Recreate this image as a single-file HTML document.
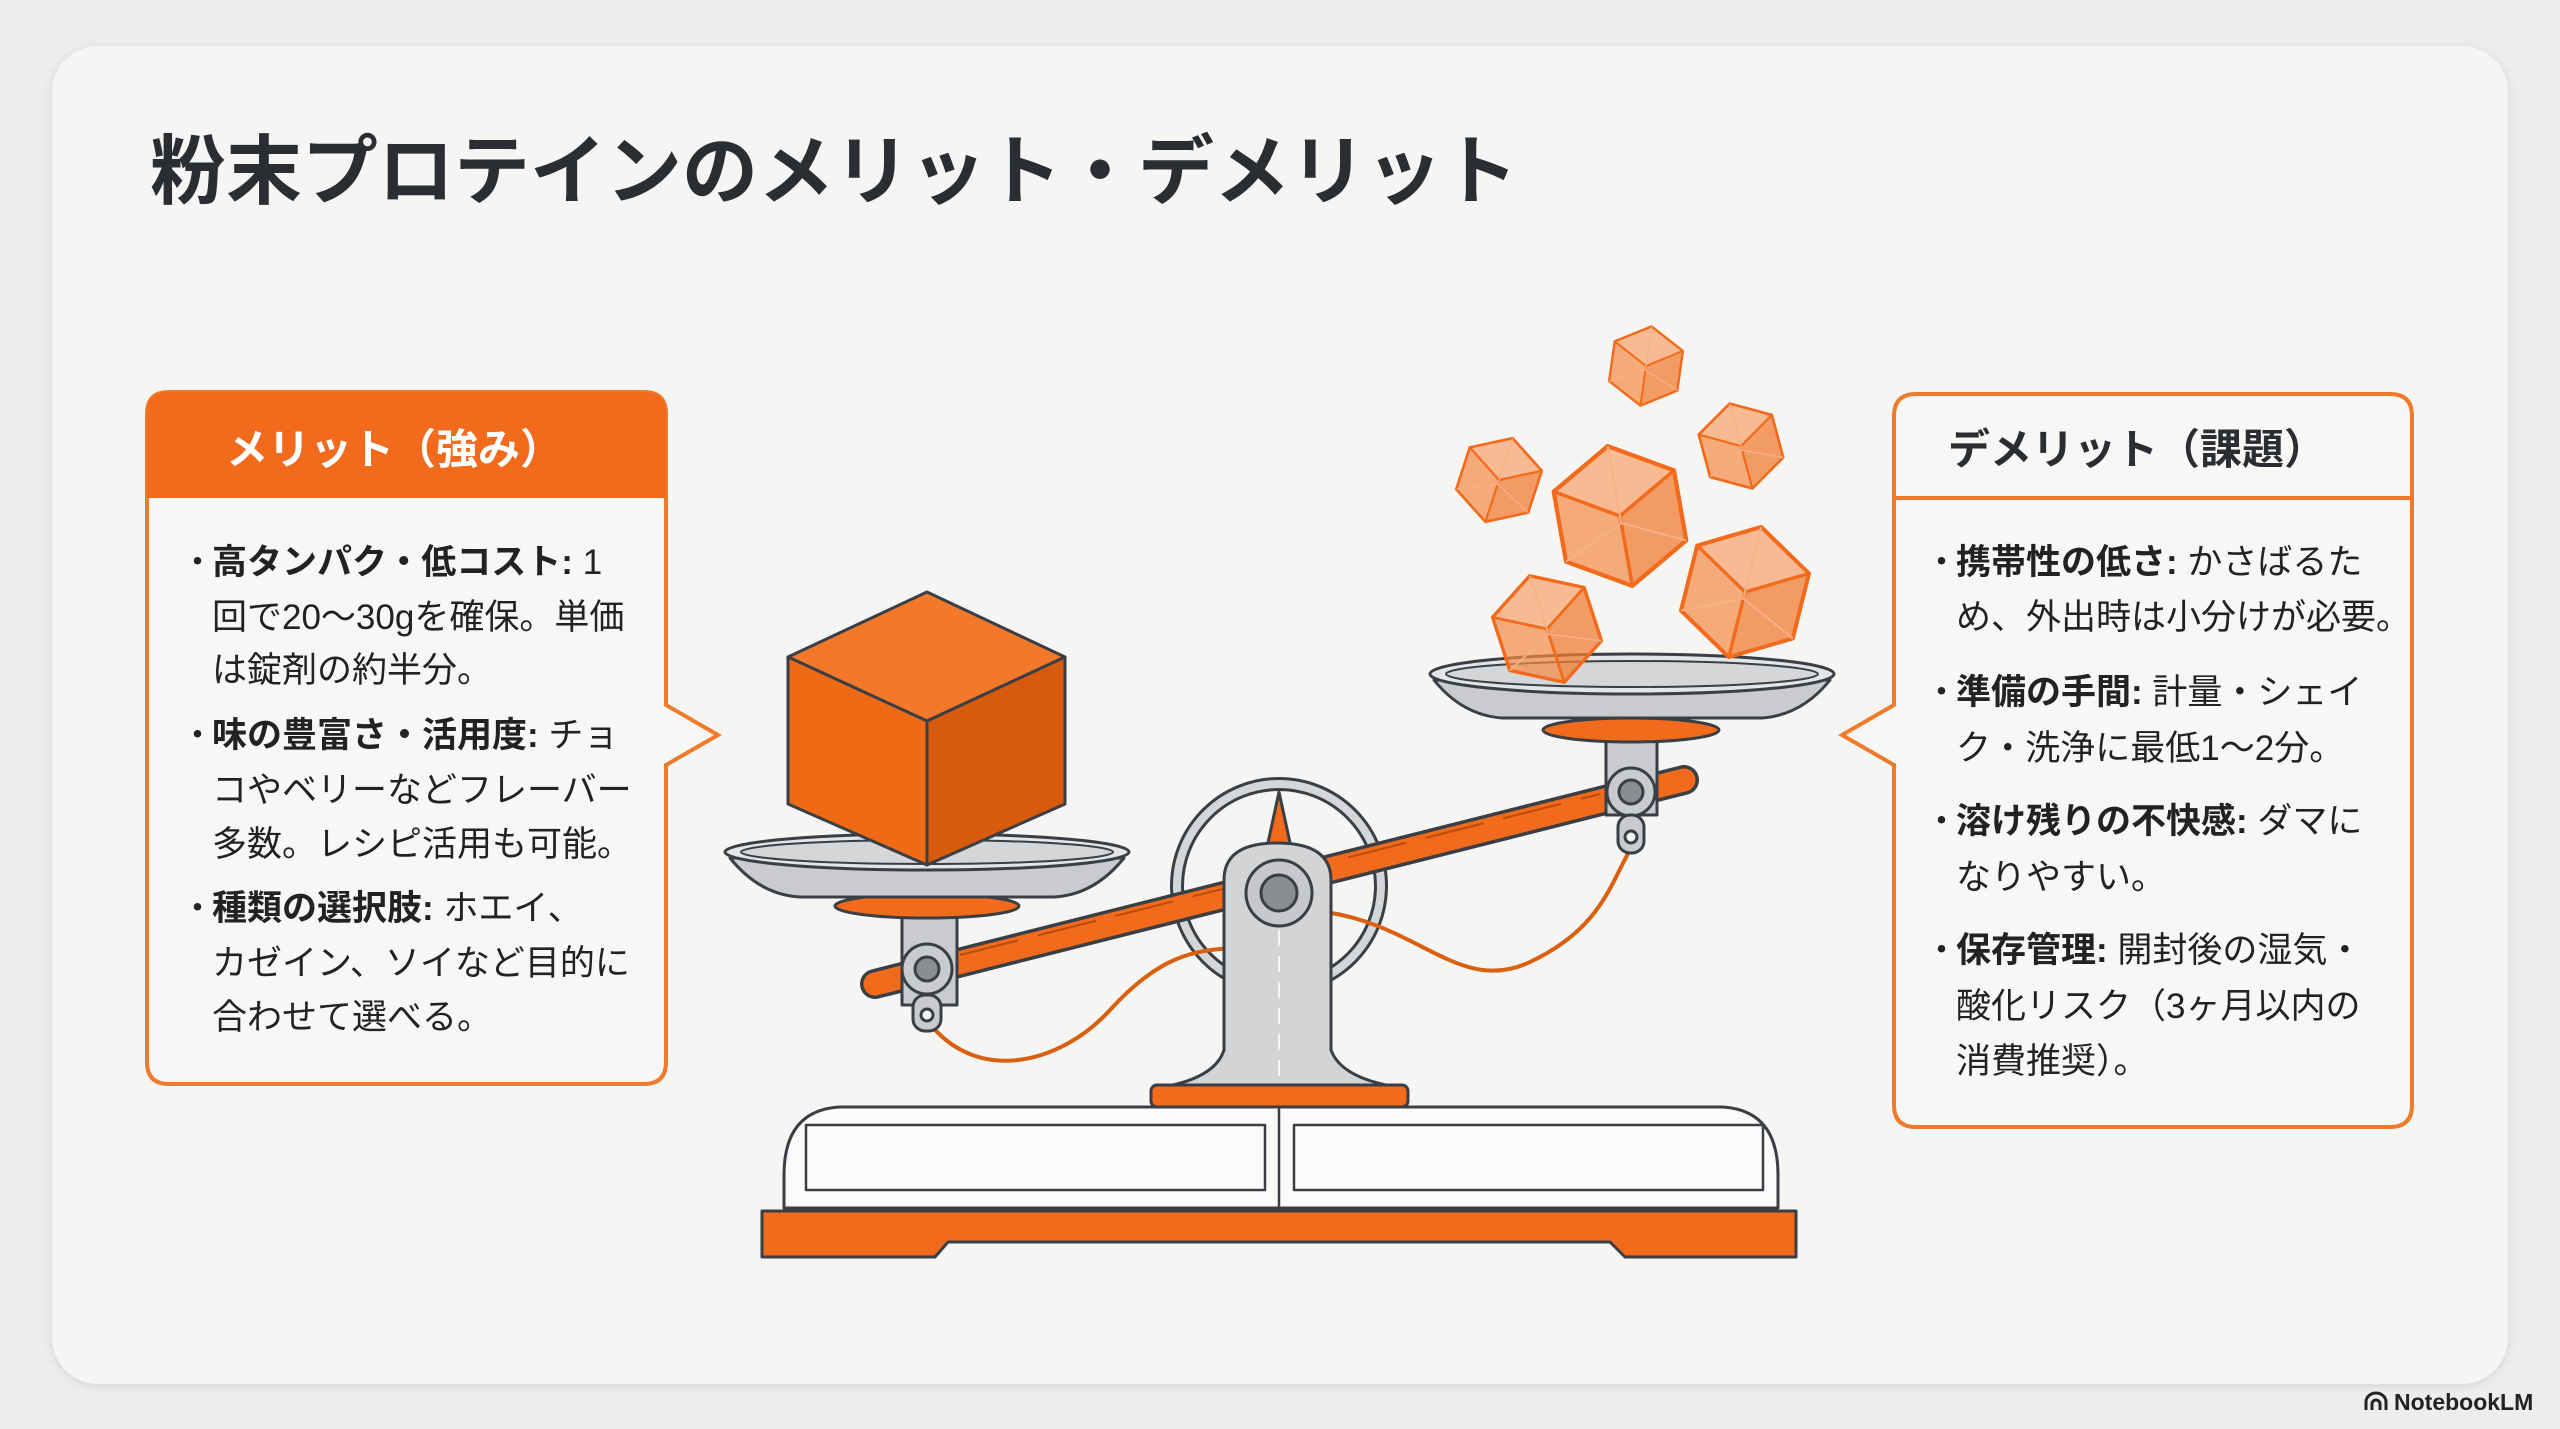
<!DOCTYPE html>
<html><head><meta charset="utf-8">
<style>
html,body{margin:0;padding:0;background:#ededeb;}
body{width:2560px;height:1429px;overflow:hidden;position:relative;font-family:"Liberation Sans","Noto Sans CJK JP",sans-serif;}
.card{position:absolute;left:52px;top:46px;width:2456px;height:1338px;border-radius:46px;background:#f5f5f3;box-shadow:0 2px 10px rgba(0,0,0,0.10);}
svg{position:absolute;left:0;top:0;}
text{font-family:"Liberation Sans","Noto Sans CJK JP",sans-serif;}
</style></head><body>
<div class="card"></div>
<svg width="2560" height="1429" viewBox="0 0 2560 1429">
<defs>
<g id="cube">
 <polygon points="0,-50 43,-25 0,0 -43,-25" fill="#f7a672" fill-opacity="0.75"/>
 <polygon points="-43,-25 0,0 0,50 -43,25" fill="#f58a45" fill-opacity="0.7"/>
 <polygon points="0,0 43,-25 43,25 0,50" fill="#f07c34" fill-opacity="0.75"/>
 <polygon points="0,-50 43,-25 43,25 0,50 -43,25 -43,-25" fill="none" stroke="#f26a1b" stroke-width="3" stroke-linejoin="round"/>
 <polyline points="-43,-25 0,0 43,-25 M0,0" fill="none" stroke="#f26a1b" stroke-width="2.5"/>
 <line x1="0" y1="0" x2="0" y2="50" stroke="#f26a1b" stroke-width="2.5"/>
 <polyline points="-43,25 0,5 43,25" fill="none" stroke="#f7b088" stroke-width="1.5"/>
 <line x1="0" y1="-50" x2="0" y2="5" stroke="#f7b088" stroke-width="1.5"/>
</g>
</defs>

<text x="150" y="198" font-size="76" font-weight="bold" fill="#2a2d31">粉末プロテインのメリット・デメリット</text>

<path d="M169,392 H644 Q666,392 666,414 V705 L718,735 L666,765 V1062 Q666,1084 644,1084 H169 Q147,1084 147,1062 V414 Q147,392 169,392 Z" fill="#f7f7f5" stroke="#f07a2c" stroke-width="4"/>
<path d="M169,392 H644 Q666,392 666,414 V498 H147 V414 Q147,392 169,392 Z" fill="#f26a1b"/>
<text x="226" y="464" font-size="42" font-weight="bold" fill="#ffffff">メリット（強み）</text>
<g font-size="35" fill="#222">
 <text x="180" y="574">・</text>
 <text x="212" y="574"><tspan font-weight="bold">高タンパク・低コスト:</tspan> 1</text>
 <text x="212" y="629">回で20〜30gを確保。単価</text>
 <text x="212" y="682">は錠剤の約半分。</text>
 <text x="180" y="747">・</text>
 <text x="212" y="747"><tspan font-weight="bold">味の豊富さ・活用度:</tspan> チョ</text>
 <text x="212" y="802">コやベリーなどフレーバー</text>
 <text x="212" y="856">多数。レシピ活用も可能。</text>
 <text x="180" y="920">・</text>
 <text x="212" y="920"><tspan font-weight="bold">種類の選択肢:</tspan> ホエイ、</text>
 <text x="212" y="975">カゼイン、ソイなど目的に</text>
 <text x="212" y="1029">合わせて選べる。</text>
</g>

<path d="M1916,394 H2390 Q2412,394 2412,416 V1105 Q2412,1127 2390,1127 H1916 Q1894,1127 1894,1105 V765 L1842,735 L1894,705 V416 Q1894,394 1916,394 Z" fill="#f7f7f5" stroke="#f07a2c" stroke-width="4"/>
<line x1="1894" y1="498" x2="2412" y2="498" stroke="#f07a2c" stroke-width="4"/>
<text x="1948" y="464" font-size="42" font-weight="bold" fill="#2a2d31">デメリット（課題）</text>
<g font-size="35" fill="#222">
 <text x="1924" y="574">・</text>
 <text x="1956" y="574"><tspan font-weight="bold">携帯性の低さ:</tspan> かさばるた</text>
 <text x="1956" y="629">め、外出時は小分けが必要。</text>
 <text x="1924" y="704">・</text>
 <text x="1956" y="704"><tspan font-weight="bold">準備の手間:</tspan> 計量・シェイ</text>
 <text x="1956" y="760">ク・洗浄に最低1〜2分。</text>
 <text x="1924" y="833">・</text>
 <text x="1956" y="833"><tspan font-weight="bold">溶け残りの不快感:</tspan> ダマに</text>
 <text x="1956" y="889">なりやすい。</text>
 <text x="1924" y="962">・</text>
 <text x="1956" y="962"><tspan font-weight="bold">保存管理:</tspan> 開封後の湿気・</text>
 <text x="1956" y="1018">酸化リスク（3ヶ月以内の</text>
 <text x="1956" y="1073">消費推奨）。</text>
</g>

<g stroke="#3a3f45" stroke-width="3" stroke-linejoin="round">
 <circle cx="1279" cy="886" r="102" fill="none" stroke="#3a3f45" stroke-width="14"/>
 <circle cx="1279" cy="886" r="102" fill="none" stroke="#d4d6d8" stroke-width="8"/>
 <path d="M927,1020 C975,1085 1060,1065 1110,1010 S1195,950 1235,948" fill="none" stroke="#d9600f" stroke-width="4"/>
 <path d="M1325,912 C1420,925 1460,995 1530,962 S1610,885 1630,850" fill="none" stroke="#d9600f" stroke-width="4"/>
 <line x1="875" y1="984" x2="1684" y2="780" stroke="#3a3f45" stroke-width="30" stroke-linecap="round"/>
 <line x1="875" y1="984" x2="1684" y2="780" stroke="#f26a1b" stroke-width="23" stroke-linecap="round"/>
 <line x1="960" y1="955" x2="1600" y2="794" stroke="#b84d0b" stroke-width="2" stroke-dasharray="60 20"/>
 <polygon points="1279,792 1266,852 1292,852" fill="#f26a1b"/>
 <path d="M1224,1050 V880 Q1224,843 1277,843 Q1331,843 1331,880 V1050 Q1340,1075 1386,1085 H1173 Q1216,1075 1224,1050 Z" fill="#d2d4d6"/>
 <line x1="1279" y1="930" x2="1279" y2="1085" stroke="#f5f5f5" stroke-width="2" stroke-dasharray="16 10"/>
 <circle cx="1279" cy="893" r="33" fill="#c6c8cb"/>
 <circle cx="1279" cy="893" r="18" fill="#8a8e93"/>
 <rect x="1151" y="1085" width="257" height="22" rx="6" fill="#f26a1b"/>
 <path d="M840,1107 H1722 Q1778,1110 1778,1175 V1208 H784 V1175 Q784,1110 840,1107 Z" fill="#fbfbfb"/>
 <rect x="806" y="1125" width="459" height="65" fill="#fbfbfb" stroke-width="2.5"/>
 <rect x="1294" y="1125" width="469" height="65" fill="#fbfbfb" stroke-width="2.5"/>
 <line x1="1279" y1="1107" x2="1279" y2="1208" stroke-width="2.5"/>
 <polygon points="762,1211 1796,1211 1796,1257 1625,1257 1610,1242 948,1242 935,1257 762,1257" fill="#f26a1b"/>
 <rect x="902" y="905" width="55" height="100" fill="#c9cbce"/>
 <circle cx="927" cy="969" r="25" fill="#c9cbce"/>
 <circle cx="927" cy="969" r="12" fill="#8a8e93"/>
 <rect x="913" y="995" width="28" height="36" rx="12" fill="#c9cbce"/>
 <circle cx="927" cy="1015" r="6" fill="#f5f5f3"/>
 <ellipse cx="927" cy="906" rx="92" ry="12" fill="#f26a1b"/>
 <path d="M730,858 Q760,895 800,897 H1054 Q1094,895 1124,858 Z" fill="#c9cbce"/>
 <ellipse cx="927" cy="852" rx="202" ry="18" fill="#e4e5e6"/>
 <ellipse cx="927" cy="852" rx="186" ry="12" fill="#d4d6d8" stroke-width="2"/>
 <polygon points="927,592 1065,657 927,721 788,657" fill="#f4782a"/>
 <polygon points="788,657 927,721 927,865 788,804" fill="#ef6a15"/>
 <polygon points="927,721 1065,657 1065,804 927,865" fill="#d85a0c"/>
 <rect x="1606" y="725" width="51" height="90" fill="#c9cbce"/>
 <circle cx="1631" cy="792" r="24" fill="#c9cbce"/>
 <circle cx="1631" cy="792" r="12" fill="#8a8e93"/>
 <rect x="1618" y="815" width="26" height="38" rx="12" fill="#c9cbce"/>
 <circle cx="1631" cy="837" r="6" fill="#f5f5f3"/>
 <ellipse cx="1631" cy="730" rx="88" ry="12" fill="#f26a1b"/>
 <path d="M1434,680 Q1462,715 1502,718 H1762 Q1802,715 1830,680 Z" fill="#c9cbce"/>
 <ellipse cx="1632" cy="674" rx="202" ry="20" fill="#e4e5e6"/>
 <ellipse cx="1632" cy="674" rx="186" ry="13" fill="#d4d6d8" stroke-width="2"/>
</g>
<use href="#cube" transform="translate(1646,366) rotate(8) scale(0.8)"/>
<use href="#cube" transform="translate(1741,446) rotate(-15) scale(0.88)"/>
<use href="#cube" transform="translate(1499,480) rotate(18) scale(0.88)"/>
<use href="#cube" transform="translate(1620,516) rotate(-10) scale(1.42)"/>
<use href="#cube" transform="translate(1745,592) rotate(14) scale(1.34)"/>
<use href="#cube" transform="translate(1547,629) rotate(-18) scale(1.12)"/>

<g fill="none" stroke="#222" stroke-width="3">
 <path d="M2366,1410 V1402 A10,9 0 0 1 2386,1402 V1410"/>
 <path d="M2372,1410 V1404 A4,4 0 0 1 2380,1404 V1410"/>
</g>
<text x="2394" y="1410" font-size="23" font-weight="bold" fill="#222">NotebookLM</text>
</svg>
</body></html>
